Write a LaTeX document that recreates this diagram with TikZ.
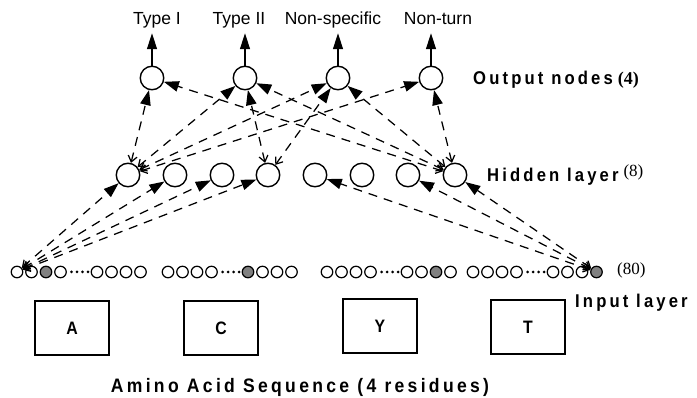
\documentclass[tikz,border=0pt]{standalone}
\usepackage{fontspec}
\setmainfont{Liberation Serif}
\setsansfont{Liberation Sans}
\newfontfamily\tagsans[FakeStretch=0.9,LetterSpace=17,BoldFont={Liberation Sans Bold}]{Liberation Sans}
\newfontfamily\boxsans[FakeStretch=0.88,BoldFont={Liberation Sans Bold}]{Liberation Sans}
\usetikzlibrary{arrows.meta,positioning}
\definecolor{Ink}{HTML}{000000}
\definecolor{Shade}{HTML}{808080}

\begin{document}
\begin{tikzpicture}[
  x=1pt,y=-1pt,
  unit/.style={circle,draw=Ink,line width=1.4pt,minimum size=23.5pt,inner sep=0pt,fill=white},
  bit/.style={circle,draw=Ink,line width=1.2pt,minimum size=11.5pt,inner sep=0pt,fill=white},
  onbit/.style={bit,fill=Shade},
  resbox/.style={draw=Ink,line width=1.4pt,minimum width=74pt,minimum height=54pt,inner sep=0pt,font=\boxsans\bfseries\fontsize{18}{20}\selectfont},
  classtag/.style={anchor=base,inner sep=4pt,text depth=4pt,font=\sffamily\fontsize{17.5}{20}\selectfont},
  layertag/.style={anchor=base west,inner sep=0pt,font=\tagsans\bfseries\fontsize{18.5}{20}\selectfont},
  link/.style={draw=Ink,line width=1.25pt,dash pattern=on 9pt off 7pt,arrows={Straight Barb[length=6pt,width=9pt]-Triangle[length=15pt,width=10.5pt]}},
  outarr/.style={draw=Ink,line width=1.3pt,-{Triangle[length=16pt,width=10pt]}}
]
\useasboundingbox (0,0) rectangle (697,398);
\node[unit] (o1) at (152,78) {};
\node[unit] (o2) at (245,78) {};
\node[unit] (o3) at (338,78) {};
\node[unit] (o4) at (431,78) {};
\node[classtag] (t1) at (157,25) {Type I};
\node[classtag] (t2) at (239,25) {Type II};
\node[classtag] (t3) at (333,25) {Non-specific};
\node[classtag] (t4) at (438,25) {Non-turn};
\draw[outarr] (o1) -- (o1 |- t1.south); \draw[outarr] (o2) -- (o2 |- t2.south);
\draw[outarr] (o3) -- (o3 |- t3.south); \draw[outarr] (o4) -- (o4 |- t4.south);
\foreach \i/\x in {1/128,2/175,3/222,4/268,5/315,6/362,7/408,8/455}
  \node[unit] (h\i) at (\x,175) {};
\foreach \g/\gx/\on in {1/17/2,2/168/4,3/327/6,4/473/7}{
  \foreach \k/\dx in {0/0,1/14.5,2/29,3/43.5,4/80,5/94.5,6/109,7/123.5}{
    \ifnum\k=\on \def\bitstyle{onbit}\else\def\bitstyle{bit}\fi
    \node[\bitstyle] (in\g-\k) at (\gx+\dx,272) {};
  }
  \foreach \d in {54.5,60,65.5,71} \fill[Ink] (\gx+\d,272) circle (1.5pt);
}
\node[resbox] (rA) at (72,328) {A};
\node[resbox] (rC) at (221,328) {C};
\node[resbox] (rY) at (380,326) {Y};
\node[resbox] (rT) at (528,327) {T};
\node[layertag] (outtag) at (473,85) {Output nodes\hspace{5pt}{\rmfamily\bfseries\fontsize{18}{20}\selectfont(4)}};
\node[layertag] (hidtag) at (487,182) {Hidden layer\hspace{5pt}\raisebox{5pt}{\rmfamily\mdseries\fontsize{17}{20}\selectfont(8)}};
\node[layertag] (intag) at (575,308) {Input layer};
\node[anchor=base west,inner sep=0pt,font=\rmfamily\fontsize{17}{20}\selectfont] (bitcount) at (617,275) {(80)};
\node[layertag,anchor=base,font=\tagsans\bfseries\fontsize{19.5}{22}\selectfont] (seqtag) at (300,393) {Amino Acid Sequence (4 residues)};
\foreach \k in {1,...,4} \draw[link] (in1-0) -- (h\k);
\foreach \k in {5,7,8} \draw[link] (in4-7) -- (h\k);
\foreach \k in {1,...,4} \draw[link] (h1) -- (o\k);
\foreach \k in {1,...,4} \draw[link] (h8) -- (o\k);
\draw[link] (h4) -- (o2); \draw[link] (h4) -- (o3);
\end{tikzpicture}
\end{document}
